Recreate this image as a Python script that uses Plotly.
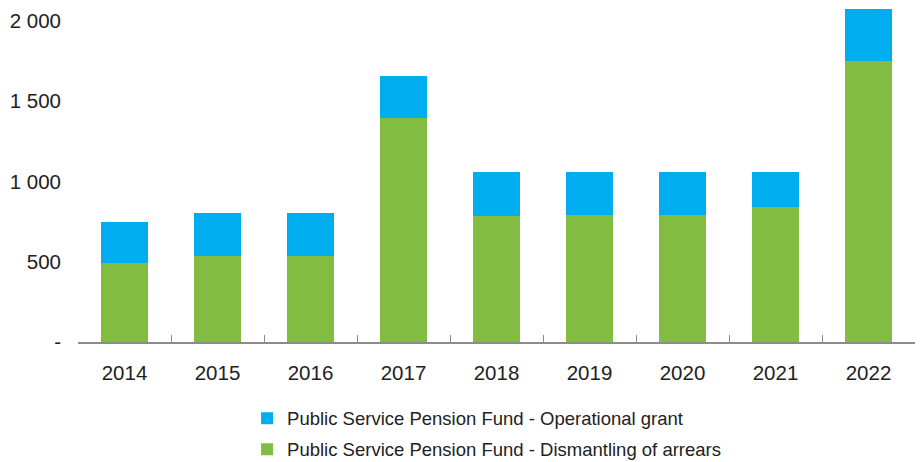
import plotly.graph_objects as go

years = ['2014', '2015', '2016', '2017', '2018', '2019', '2020', '2021', '2022']
arrears = [490, 534, 534, 1393, 784, 789, 789, 840, 1752]
grant = [255, 267, 267, 265, 278, 273, 273, 222, 323]

y_ticks = [0, 500, 1000, 1500, 2000]
y_labels = ['-', '500', '1 000', '1 500', '2 000']

blue = '#00AEEF'
green = '#82BD41'
font = 'Liberation Sans, Arial, sans-serif'

fig = go.Figure()
fig.add_trace(go.Bar(x=years, y=arrears, name='Public Service Pension Fund - Dismantling of arrears',
                     marker=dict(color=green, line=dict(width=0)), legendrank=2, legendgroup='b'))
fig.add_trace(go.Bar(x=years, y=grant, name='Public Service Pension Fund - Operational grant',
                     marker=dict(color=blue, line=dict(width=0)), legendrank=1, legendgroup='a'))

fig.update_layout(
    barmode='stack',
    bargap=0.5,
    width=922, height=462,
    margin=dict(l=78, r=7, t=5, b=120),
    plot_bgcolor='white', paper_bgcolor='white',
    font=dict(family=font, color='#222222', size=20.5),
    legend=dict(x=0.202, xanchor='left', yref='container', y=0.135, yanchor='top',
                traceorder='grouped', tracegroupgap=4,
                font=dict(size=18.5, color='#222222')),
)
fig.update_xaxes(showline=True, linecolor='#8c8c8c', linewidth=1.5,
                 ticks='inside', tickson='boundaries', ticklen=7, tickcolor='#8c8c8c',
                 ticklabelstandoff=12, showgrid=False, automargin=False)
fig.update_yaxes(range=[0, 2100], tickvals=y_ticks, ticktext=y_labels,
                 showgrid=False, zeroline=False, showline=False,
                 ticklabelstandoff=16, automargin=False)

# drop the default page margin so the figure sits at the window's corner
fig.write_html('out.html', config={'displayModeBar': False},
               post_script="document.body.style.margin='0';")
